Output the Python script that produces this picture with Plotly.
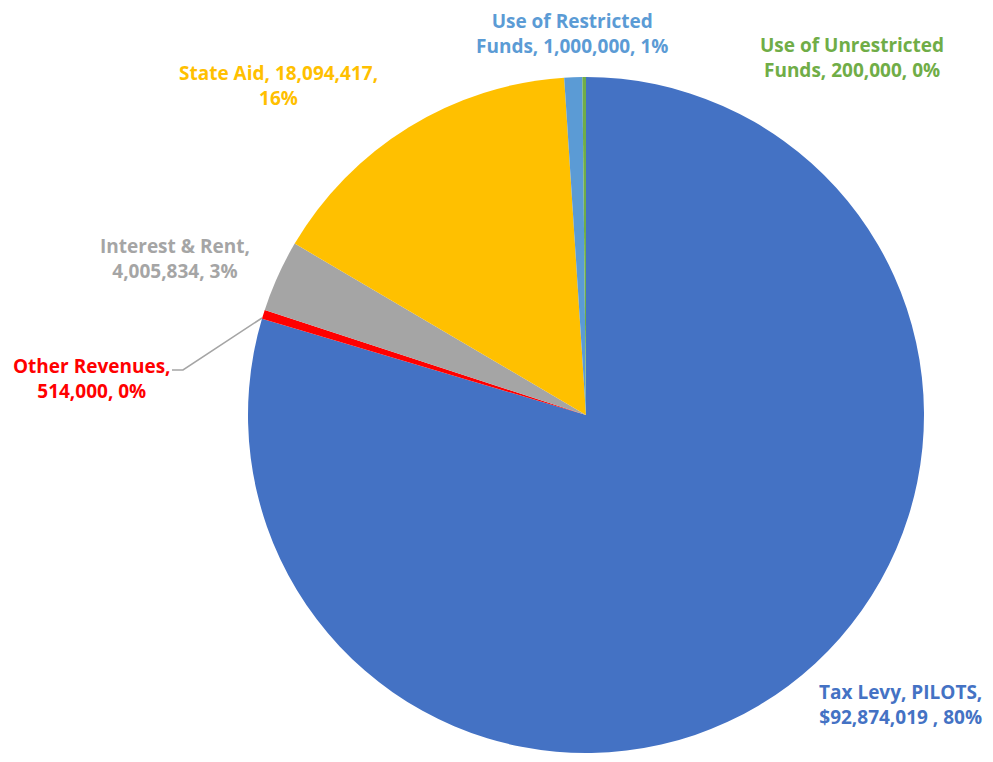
import plotly.graph_objects as go

labels = ["Tax Levy, PILOTS", "Other Revenues", "Interest & Rent", "State Aid",
          "Use of Restricted Funds", "Use of Unrestricted Funds"]
values = [92874019, 514000, 4005834, 18094417, 1000000, 200000]
colors = ["#4472C4", "#FF0000", "#A5A5A5", "#FFC000", "#5B9BD5", "#70AD47"]
label_texts = [
    "Tax Levy, PILOTS,<br>$92,874,019 , 80%",
    "Other Revenues,<br>514,000, 0%",
    "Interest & Rent,<br>4,005,834, 3%",
    "State Aid, 18,094,417,<br>16%",
    "Use of Restricted<br>Funds, 1,000,000, 1%",
    "Use of Unrestricted<br>Funds, 200,000, 0%",
]
text_colors = ["#4472C4", "#FF0000", "#A5A5A5", "#FFC000", "#5B9BD5", "#70AD47"]
# label centre positions in screen pixels (x, y from top)
label_pos = [(900, 704), (92, 378), (175, 258), (278, 86), (572, 34), (852, 58)]

OFF = 8  # page body margin
W, H = 993 - OFF, 762 - OFF
cx, cy, r = 586 - OFF, 415 - OFF, 338


def px(x):
    return (x - OFF) / W


def py(y):
    return 1 - (y - OFF) / H


fig = go.Figure(go.Pie(
    labels=labels, values=values, sort=False, direction="clockwise", rotation=0,
    marker=dict(colors=colors, line=dict(width=0)),
    textinfo="none", hoverinfo="label+value+percent", showlegend=False,
    domain=dict(x=[(cx - r) / W, (cx + r) / W], y=[1 - (cy + r) / H, 1 - (cy - r) / H]),
))

for t, c, (x, y) in zip(label_texts, text_colors, label_pos):
    fig.add_annotation(x=px(x), y=py(y), xref="paper", yref="paper",
                       xanchor="center", yanchor="middle",
                       text="<b>" + t + "</b>", showarrow=False, align="center",
                       font=dict(family="Open Sans", size=19, color=c))

# leader line for Other Revenues
fig.add_shape(type="path", xref="paper", yref="paper",
              path=f"M {px(172)},{py(370)} L {px(183)},{py(370)} L {px(262)},{py(318)}",
              line=dict(color="#A5A5A5", width=1.5))

fig.update_layout(width=W, height=H, margin=dict(l=0, r=0, t=0, b=0),
                  paper_bgcolor="white", plot_bgcolor="white")
fig.write_html("out.html")
